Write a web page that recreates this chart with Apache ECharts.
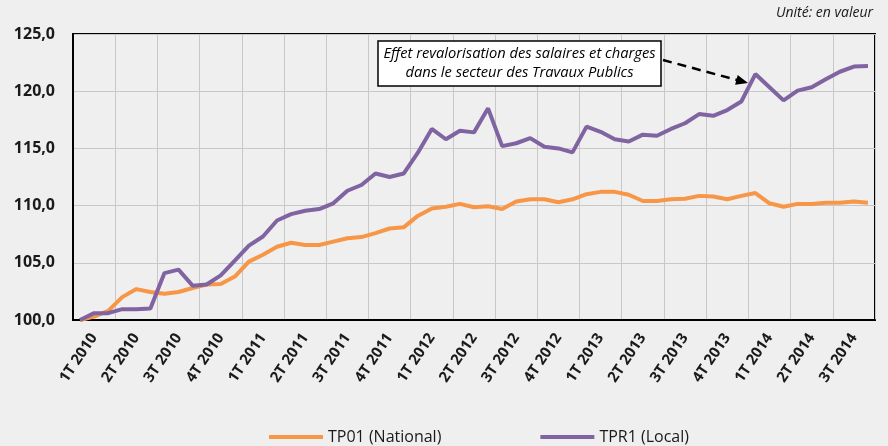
<!DOCTYPE html>
<html>
<head>
<meta charset="utf-8">
<script src="https://cdn.jsdelivr.net/npm/echarts@6/dist/echarts.min.js"></script>
<style>
  html, body { margin: 0; padding: 0; background: #efefef; }
  #chart { width: 888px; height: 446px; }
</style>
</head>
<body>
<div id="chart"></div>
<script>
// libellés trimestriels (un libellé tous les 3 mois)
var quarterLabels = ['1T 2010', '2T 2010', '3T 2010', '4T 2010',
  '1T 2011', '2T 2011', '3T 2011', '4T 2011',
  '1T 2012', '2T 2012', '3T 2012', '4T 2012',
  '1T 2013', '2T 2013', '3T 2013', '4T 2013',
  '1T 2014', '2T 2014', '3T 2014'];

// mois (catégories de l'axe)
var months = [];
quarterLabels.forEach(function (q) {
  for (var m = 1; m <= 3; m++) months.push(q + ' m' + m);
});

var tp01 = [
  100.0, 100.3, 100.8, 102.0, 102.7, 102.45, 102.3, 102.45, 102.8, 103.1,
  103.15, 103.8, 105.1, 105.7, 106.4, 106.75, 106.55, 106.55, 106.85, 107.15,
  107.25, 107.6, 108.0, 108.1, 109.1, 109.75, 109.9, 110.15, 109.85, 109.95,
  109.7, 110.35, 110.55, 110.55, 110.3, 110.55, 111.0, 111.2, 111.2, 110.95,
  110.4, 110.4, 110.55, 110.6, 110.85, 110.8, 110.55, 110.85, 111.1, 110.2,
  109.9, 110.15, 110.15, 110.25, 110.25, 110.35, 110.25
];

var tpr1 = [
  100.0, 100.6, 100.6, 100.95, 100.93, 101.0, 104.1, 104.4, 103.0, 103.1,
  103.9, 105.2, 106.5, 107.3, 108.7, 109.25, 109.55, 109.7, 110.2, 111.3,
  111.8, 112.8, 112.5, 112.8, 114.6, 116.7, 115.8, 116.55, 116.4, 118.5,
  115.2, 115.45, 115.9, 115.15, 115.0, 114.65, 116.9, 116.45, 115.8, 115.6,
  116.2, 116.1, 116.7, 117.2, 118.0, 117.85, 118.35, 119.1, 121.5, 120.35,
  119.2, 120.05, 120.35, 121.05, 121.7, 122.15, 122.2
];

var seriesNames = ['TP01 (National)', 'TPR1 (Local)'];

var myChart = echarts.init(document.getElementById('chart'));
var option = {
  backgroundColor: '#efefef',
  textStyle: { fontFamily: 'Open Sans' },
  grid: {
    left: 73,
    right: 13,
    top: 34,
    bottom: 126,
    show: true,
    borderColor: '#000',
    borderWidth: 2
  },
  legend: {
    data: seriesNames,
    left: 264,
    top: 424,
    icon: 'rect',
    itemWidth: 54,
    itemHeight: 4,
    itemGap: 99,
    textStyle: { fontSize: 16, color: '#1a1a1a', fontFamily: 'Open Sans' }
  },
  xAxis: {
    type: 'category',
    data: months,
    boundaryGap: true,
    axisLine: { show: true, lineStyle: { color: '#000', width: 2 } },
    axisTick: { show: false },
    axisLabel: {
      interval: function (index) { return index % 3 === 1; },
      formatter: function (value, index) { return quarterLabels[Math.floor(index / 3)]; },
      rotate: 56,
      margin: 15,
      fontSize: 15,
      fontWeight: 'bold',
      color: '#1a1a1a'
    },
    splitLine: {
      show: true,
      interval: 2,
      lineStyle: { color: '#c8c8c8', width: 1 }
    }
  },
  yAxis: {
    type: 'value',
    min: 100,
    max: 125,
    interval: 5,
    axisLine: { show: true, lineStyle: { color: '#000', width: 2 } },
    axisTick: { show: false },
    axisLabel: {
      margin: 18,
      fontSize: 16,
      fontWeight: 'bold',
      color: '#1a1a1a',
      formatter: function (v) { return v.toFixed(1).replace('.', ','); }
    },
    splitLine: { lineStyle: { color: '#c8c8c8', width: 1 } }
  },
  series: [
    {
      name: seriesNames[0],
      type: 'line',
      data: tp01,
      symbol: 'none',
      itemStyle: { color: '#f79646' },
      lineStyle: { color: '#f79646', width: 4 }
    },
    {
      name: seriesNames[1],
      type: 'line',
      data: tpr1,
      symbol: 'none',
      itemStyle: { color: '#8064a2' },
      lineStyle: { color: '#8064a2', width: 4 }
    }
  ],
  graphic: [
    {
      type: 'text',
      right: 15,
      top: 6,
      style: {
        text: 'Unité: en valeur',
        fontSize: 14,
        fontStyle: 'italic',
        fontFamily: 'Open Sans',
        fill: '#1a1a1a'
      }
    },
    {
      type: 'rect',
      shape: { x: 378, y: 41, width: 283, height: 45 },
      style: { fill: '#fff', stroke: '#000', lineWidth: 1.5 },
      z: 10
    },
    {
      type: 'text',
      x: 519.5,
      y: 54,
      z: 11,
      style: {
        text: 'Effet revalorisation des salaires et charges',
        align: 'center',
        verticalAlign: 'middle',
        fontSize: 14.7,
        fontStyle: 'italic',
        fontFamily: 'Open Sans',
        fill: '#000'
      }
    },
    {
      type: 'text',
      x: 519.5,
      y: 73,
      z: 11,
      style: {
        text: 'dans le secteur des Travaux Publics',
        align: 'center',
        verticalAlign: 'middle',
        fontSize: 14.7,
        fontStyle: 'italic',
        fontFamily: 'Open Sans',
        fill: '#000'
      }
    },
    {
      type: 'line',
      z: 10,
      shape: { x1: 663, y1: 60, x2: 737, y2: 80 },
      style: { stroke: '#000', lineWidth: 2.5, lineDash: [9, 6] }
    },
    {
      type: 'polygon',
      z: 10,
      shape: { points: [[748, 83], [735.1, 84.7], [737.7, 75.1]] },
      style: { fill: '#000' }
    }
  ]
};
myChart.setOption(option);
</script>
</body>
</html>
